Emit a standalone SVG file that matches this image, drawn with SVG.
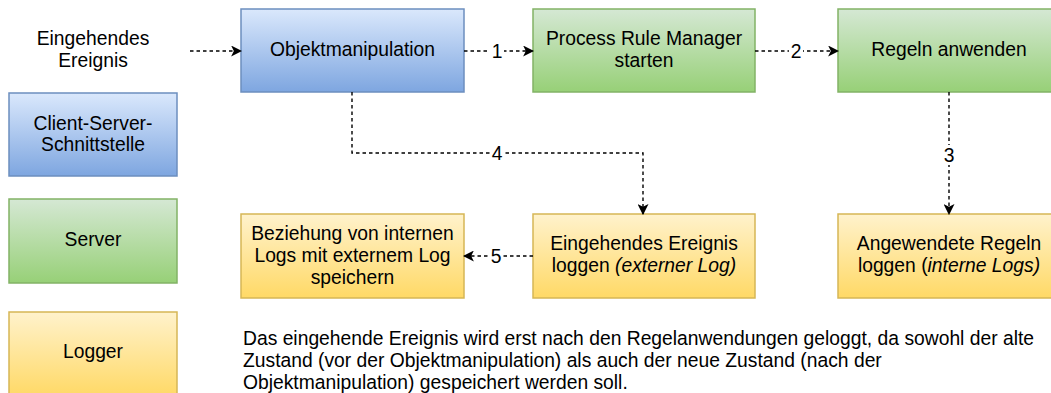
<svg xmlns="http://www.w3.org/2000/svg" width="1051" height="393" viewBox="0 0 1051 393">
  <defs>
    <linearGradient id="gBlue" x1="0" y1="0" x2="0" y2="1">
      <stop offset="0" stop-color="#dae8fc"/>
      <stop offset="1" stop-color="#7ea6e0"/>
    </linearGradient>
    <linearGradient id="gGreen" x1="0" y1="0" x2="0" y2="1">
      <stop offset="0" stop-color="#d5e8d4"/>
      <stop offset="1" stop-color="#97d077"/>
    </linearGradient>
    <linearGradient id="gYellow" x1="0" y1="0" x2="0" y2="1">
      <stop offset="0" stop-color="#fff2cc"/>
      <stop offset="1" stop-color="#ffd966"/>
    </linearGradient>
    <marker id="arrow" viewBox="0 0 10 10" refX="9" refY="5" markerWidth="11" markerHeight="11" markerUnits="userSpaceOnUse" orient="auto">
      <path d="M0,0 L10,5 L0,10 L2.5,5 Z" fill="#000"/>
    </marker>
  </defs>
  <style>
    text { font-family: "Liberation Sans", Arial, sans-serif; font-size: 19.3px; fill: #000; }
    .c { text-anchor: middle; }
    .blue { fill: url(#gBlue); stroke: #6c8ebf; stroke-width: 1.5; }
    .green { fill: url(#gGreen); stroke: #82b366; stroke-width: 1.5; }
    .yellow { fill: url(#gYellow); stroke: #d6b656; stroke-width: 1.5; }
    .edge { fill: none; stroke: #000; stroke-width: 1.4; stroke-dasharray: 3.5 3; marker-end: url(#arrow); }
    .lbl { fill: #fff; }
  </style>

  <rect width="1051" height="393" fill="#fff"/>

  <!-- legend -->
  <g id="legend-client">
    <rect class="blue" x="9" y="93" width="168" height="83"/>
    <text class="c" x="93" y="130">Client-Server-</text>
    <text class="c" x="93" y="151">Schnittstelle</text>
  </g>
  <g id="legend-server">
    <rect class="green" x="9" y="199" width="168" height="84"/>
    <text class="c" x="93" y="246">Server</text>
  </g>
  <g id="legend-logger">
    <rect class="yellow" x="9" y="312" width="168" height="84"/>
    <text class="c" x="93" y="358">Logger</text>
  </g>

  <!-- start label -->
  <g id="event">
    <text class="c" x="93" y="45">Eingehendes</text>
    <text class="c" x="93" y="67">Ereignis</text>
  </g>

  <!-- process nodes -->
  <g id="objektmanipulation">
    <rect class="blue" x="241" y="9" width="223" height="83"/>
    <text class="c" x="352.5" y="56">Objektmanipulation</text>
  </g>
  <g id="prm-starten">
    <rect class="green" x="533" y="9" width="222" height="83"/>
    <text class="c" x="644" y="45">Process Rule Manager</text>
    <text class="c" x="644" y="67">starten</text>
  </g>
  <g id="regeln-anwenden">
    <rect class="green" x="838" y="9" width="223" height="83"/>
    <text class="c" x="949" y="56">Regeln anwenden</text>
  </g>

  <!-- logging nodes -->
  <g id="beziehung-speichern">
    <rect class="yellow" x="241" y="214" width="223" height="84"/>
    <text class="c" x="352.5" y="240">Beziehung von internen</text>
    <text class="c" x="352.5" y="262">Logs mit externem Log</text>
    <text class="c" x="352.5" y="284">speichern</text>
  </g>
  <g id="ereignis-loggen">
    <rect class="yellow" x="533" y="214" width="222" height="84"/>
    <text class="c" x="644" y="250">Eingehendes Ereignis</text>
    <text class="c" x="644" y="272">loggen <tspan font-style="italic">(externer Log)</tspan></text>
  </g>
  <g id="regeln-loggen">
    <rect class="yellow" x="838" y="214" width="223" height="84"/>
    <text class="c" x="949" y="250">Angewendete Regeln</text>
    <text class="c" x="949" y="272">loggen (<tspan font-style="italic">interne Logs)</tspan></text>
  </g>

  <!-- connectors -->
  <g id="connectors">
    <path class="edge" d="M190,51 H241"/>
    <path class="edge" d="M464,51 H533"/>
    <path class="edge" d="M755,51 H838"/>
    <path class="edge" d="M949,92 V214"/>
    <path class="edge" d="M352,92 V153 H643 V214"/>
    <path class="edge" d="M533,256 H464"/>

    <rect class="lbl" x="490" y="41" width="14" height="20"/>
    <text class="c" x="497" y="58">1</text>
    <rect class="lbl" x="789" y="41" width="14" height="20"/>
    <text class="c" x="796" y="58">2</text>
    <rect class="lbl" x="942" y="145" width="14" height="20"/>
    <text class="c" x="949" y="162">3</text>
    <rect class="lbl" x="490" y="143" width="14" height="20"/>
    <text class="c" x="497" y="160">4</text>
    <rect class="lbl" x="489" y="246" width="14" height="20"/>
    <text class="c" x="496" y="263">5</text>
  </g>

  <!-- note -->
  <g id="note">
    <text x="243" y="345">Das eingehende Ereignis wird erst nach den Regelanwendungen geloggt, da sowohl der alte</text>
    <text x="243" y="367">Zustand (vor der Objektmanipulation) als auch der neue Zustand (nach der</text>
    <text x="243" y="389">Objektmanipulation) gespeichert werden soll.</text>
  </g>
</svg>
